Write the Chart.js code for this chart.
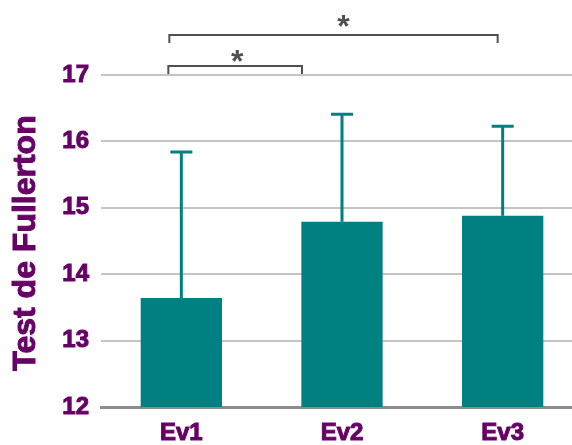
<!DOCTYPE html>
<html>
<head>
<meta charset="utf-8">
<script src="https://cdn.jsdelivr.net/npm/chart.js@4/dist/chart.umd.min.js"></script>
<style>
  html, body { margin: 0; padding: 0; background: #fff; overflow: hidden; }
  #wrap { width: 584px; height: 445px; }
</style>
</head>
<body>
<div id="wrap"><canvas id="myChart"></canvas></div>
<script>
// Fullerton test scores per evaluation, mean and standard deviation
const labels = ['Ev1', 'Ev2', 'Ev3'];
const means = [13.64, 14.79, 14.88];
const sds = [2.20, 1.62, 1.35];
const yTicks = [12, 13, 14, 15, 16, 17];

// significant comparisons (category index pairs) and their marks
const sigPairs = [[0, 1], [0, 2]];
const sigMarks = ['*', '*'];

const purple = '#660066';
const teal = '#008080';
const fontFamily = '"Liberation Sans", Arial, sans-serif';

// draws the upper half of the error bar on each column
const errorBars = {
  id: 'errorBars',
  afterDatasetsDraw(chart) {
    const ctx = chart.ctx;
    const y = chart.scales.y;
    const meta = chart.getDatasetMeta(0);
    ctx.save();
    ctx.strokeStyle = teal;
    ctx.lineWidth = 3;
    meta.data.forEach((bar, i) => {
      const top = y.getPixelForValue(means[i] + sds[i]);
      ctx.beginPath();
      ctx.moveTo(bar.x, bar.y);
      ctx.lineTo(bar.x, top);
      ctx.moveTo(bar.x - 11, top);
      ctx.lineTo(bar.x + 11, top);
      ctx.stroke();
    });
    ctx.restore();
  }
};

// brackets with a star over the compared columns
const sigBrackets = {
  id: 'sigBrackets',
  afterDraw(chart, args, opts) {
    const ctx = chart.ctx;
    const x = chart.scales.x;
    const top = chart.chartArea.top;
    ctx.save();
    ctx.strokeStyle = '#505050';
    ctx.fillStyle = '#505050';
    ctx.lineWidth = 2;
    ctx.font = 'bold 32px ' + fontFamily;
    ctx.textAlign = 'center';
    ctx.textBaseline = 'middle';
    sigPairs.forEach((pair, k) => {
      const o = opts.layout[k];
      const x1 = x.getPixelForValue(pair[0]) + o.dx1;
      const x2 = x.getPixelForValue(pair[1]) + o.dx2;
      const yb = top - o.rise;
      ctx.beginPath();
      ctx.moveTo(x1, yb + 8);
      ctx.lineTo(x1, yb);
      ctx.lineTo(x2, yb);
      ctx.lineTo(x2, yb + 8);
      ctx.stroke();
      ctx.fillText(sigMarks[k], (x1 + x2) / 2 + o.starDx, yb + o.starDy);
    });
    ctx.restore();
  }
};

// heavy rotated axis title
const yTitle = {
  id: 'yTitle',
  afterDraw(chart) {
    const ctx = chart.ctx;
    const area = chart.chartArea;
    ctx.save();
    ctx.translate(26, (area.top + area.bottom) / 2 + 2);
    ctx.rotate(-Math.PI / 2);
    ctx.font = 'bold 32px ' + fontFamily;
    ctx.textAlign = 'center';
    ctx.textBaseline = 'middle';
    ctx.fillStyle = purple;
    ctx.strokeStyle = purple;
    ctx.lineWidth = 1;
    ctx.fillText('Test de Fullerton', 0, 0);
    ctx.strokeText('Test de Fullerton', 0, 0);
    ctx.restore();
  }
};

const tickFont = { family: fontFamily, size: 24, weight: 'bold' };

const config = {
  type: 'bar',
  data: {
    labels: labels,
    datasets: [{
      data: means,
      backgroundColor: teal,
      barPercentage: 0.506,
      categoryPercentage: 1
    }]
  },
  options: {
    responsive: true,
    maintainAspectRatio: false,
    animation: false,
    layout: { padding: { top: 75, right: 1 } },
    plugins: {
      legend: { display: false },
      tooltip: { enabled: false },
      sigBrackets: {
        layout: [
          { dx1: -13, dx2: -40, rise: 9, starDx: 2, starDy: -3 },
          { dx1: -12, dx2: -5, rise: 40, starDx: 10, starDy: -7 }
        ]
      }
    },
    scales: {
      x: {
        grid: { display: false, drawTicks: false },
        border: { color: '#8c8c8c', width: 3 },
        ticks: {
          color: purple,
          padding: 12,
          textStrokeColor: purple,
          textStrokeWidth: 1,
          font: tickFont
        },
        afterFit(scale) { scale.height = 38; }
      },
      y: {
        min: 12,
        max: 17,
        afterBuildTicks(scale) { scale.ticks = yTicks.map(v => ({ value: v })); },
        grid: {
          color: ctx => ctx.tick && ctx.tick.value === 12 ? 'rgba(0,0,0,0)' : '#c4c4c4',
          lineWidth: 2,
          drawTicks: false
        },
        border: { display: false },
        ticks: {
          color: purple,
          padding: 12,
          textStrokeColor: purple,
          textStrokeWidth: 1,
          font: tickFont
        },
        afterFit(scale) { scale.width = 101; }
      }
    }
  },
  plugins: [errorBars, sigBrackets, yTitle]
};

const chart = new Chart(document.getElementById('myChart'), config);
</script>
</body>
</html>
